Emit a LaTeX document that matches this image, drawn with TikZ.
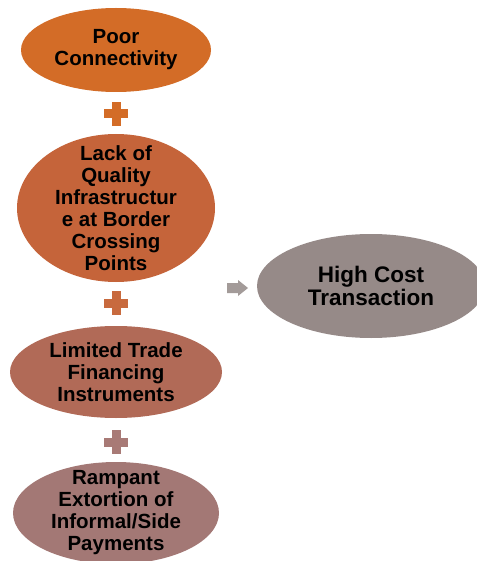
\documentclass[tikz,border=0pt]{standalone}
\usepackage{fontspec}
\setmainfont{Liberation Sans}
\usetikzlibrary{shapes.geometric}
\definecolor{cOne}{HTML}{D36C27}
\definecolor{cTwo}{HTML}{C5643A}
\definecolor{cThree}{HTML}{B16A57}
\definecolor{cFour}{HTML}{A37875}
\definecolor{cFive}{HTML}{968A88}
\definecolor{pTwo}{HTML}{C86A3E}
\definecolor{pThree}{HTML}{A87A76}
\definecolor{arrowgray}{HTML}{A39B99}
\tikzset{
  blob/.style={ellipse, inner sep=0pt, draw=none},
  label text/.style={align=center, text=black, inner sep=0pt,
    font=\bfseries\fontsize{20.5}{22}\selectfont},
  plussign/.pic={
    \fill[#1] (-12,-4.5) rectangle (12,4.5);
    \fill[#1] (-4.5,-12) rectangle (4.5,12);
  },
}
\begin{document}
\begin{tikzpicture}[x=1pt,y=-1pt]
  \useasboundingbox (0,0) rectangle (476,561);
  % cause ellipses, stacked on the left
  \node[blob, fill=cOne, minimum width=190, minimum height=84] (poor) at (116,50) {};
  \node[label text] (poortxt) at (poor) {Poor\\Connectivity};
  \node[blob, fill=cTwo, minimum width=198, minimum height=148] (infra) at (116,208) {};
  \node[label text] (infratxt) at (infra)
    {Lack of\\Quality\\Infrastructur\\e at Border\\Crossing\\Points};
  \node[blob, fill=cThree, minimum width=212, minimum height=92] (trade) at (116,372) {};
  \node[label text] (tradetxt) at (trade) {Limited Trade\\Financing\\Instruments};
  \node[blob, fill=cFour, minimum width=206, minimum height=102] (bribe) at (116,513) {};
  \node[label text] (bribetxt) at (bribe)
    {Rampant\\Extortion of\\Informal/Side\\Payments};
  % resulting effect
  \node[blob, fill=cFive, minimum width=228, minimum height=104] (cost) at (371,286) {};
  \node[label text, font=\bfseries\fontsize{22.5}{23}\selectfont] (costtxt) at (cost)
    {High Cost\\Transaction};
  % plus signs between the causes
  \pic at (116,114) {plussign=cOne};
  \pic at (116,303) {plussign=pTwo};
  \pic at (116,442) {plussign=pThree};
  % block arrow pointing to the effect
  \coordinate (arr) at (227,288);
  \fill[arrowgray] (arr) ++(0,-5) -- ++(11,0) -- ++(0,-3) -- ++(10,8)
    -- ++(-10,8) -- ++(0,-3) -- ++(-11,0) -- cycle;
\end{tikzpicture}
\end{document}
